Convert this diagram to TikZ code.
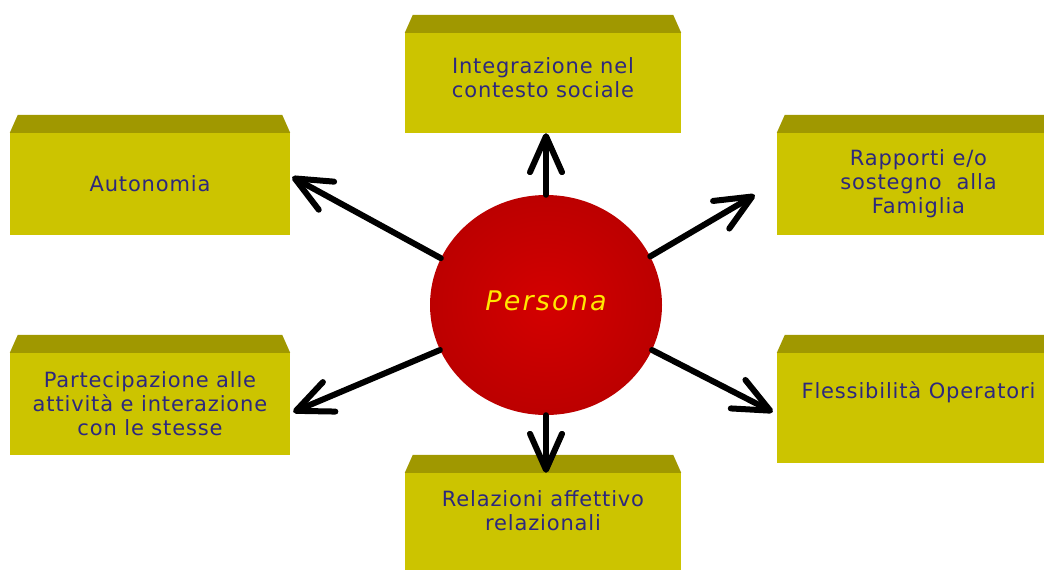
\documentclass[tikz,border=0pt]{standalone}
\usepackage{fontspec}
\usetikzlibrary{arrows.meta,shapes.geometric}
\newfontfamily\boxfont{DejaVu Sans}[LetterSpace=4]
\newfontfamily\perfont{DejaVu Sans}[LetterSpace=8]
\definecolor{frontc}{RGB}{204,196,0}
\definecolor{topc}{RGB}{160,152,0}
\definecolor{txtc}{RGB}{45,40,125}
\definecolor{persc}{RGB}{255,232,0}
\definecolor{redin}{RGB}{212,0,0}
\definecolor{redout}{RGB}{188,0,0}
\begin{document}
\begin{tikzpicture}[x=1pt,y=-1pt,
  facebox/.style={rectangle, fill=frontc, inner sep=0pt, align=center, text=txtc,
    font=\boxfont\fontsize{21}{24}\selectfont},
  arr/.style={line width=6pt, line cap=round,
    -{Straight Barb[length=36pt,width=32pt,line cap=round,line join=round]}}
]
\useasboundingbox (0,0) rectangle (1044,570);
\clip (0,0) rectangle (1044,570);
\fill[white] (0,0) rectangle (1044,570);
% boxes (front faces)
\node[facebox, minimum width=276pt, minimum height=100pt, text depth=11pt] (integ) at (543,83) {Integrazione nel\\contesto sociale};
\node[facebox, minimum width=280pt, minimum height=102pt] (auto) at (150,184) {Autonomia};
\node[facebox, minimum width=283pt, minimum height=102pt] (rapp) at (918.5,184) {Rapporti e/o\\sostegno\ \ alla\\Famiglia};
\node[facebox, minimum width=280pt, minimum height=102pt] (part) at (150,404) {Partecipazione alle\\attività e interazione\\con le stesse};
\node[facebox, minimum width=283pt, minimum height=110pt, text depth=36pt] (fles) at (918.5,408) {Flessibilità Operatori};
\node[facebox, minimum width=276pt, minimum height=100pt, text depth=24pt] (rel) at (543,523) {Relazioni affettivo\\relazionali};
% top faces
\foreach \n in {integ,auto,rapp,part,fles,rel}{
  \fill[topc] (\n.north west) -- ++(8,-18) -- ([xshift=-8pt,yshift=18pt]\n.north east) -- (\n.north east) -- cycle;
}
% central ellipse
\node[ellipse, minimum width=232pt, minimum height=220pt, inner sep=0pt,
  inner color=redin, outer color=redout, shading=radial] (pers) at (546,305) {};
\node[text=persc, font=\perfont\itshape\fontsize{27}{30}\selectfont] (perslabel) at ([yshift=4pt]pers.center) {Persona};
% arrows
\draw[arr] (pers.north) -- (pers.north |- integ.south);
\draw[arr] (pers.south) -- (pers.south |- rel.north);
\draw[arr] (pers.156) -- ([xshift=2pt,yshift=7pt]auto.east);
\draw[arr] (pers.25) -- ([xshift=-22pt,yshift=-11pt]rapp.west);
\draw[arr] (pers.203) -- ([xshift=3pt,yshift=-8pt]part.east);
\draw[arr] (pers.-23) -- ([xshift=-4pt,yshift=-4pt]fles.west);
\end{tikzpicture}
\end{document}
